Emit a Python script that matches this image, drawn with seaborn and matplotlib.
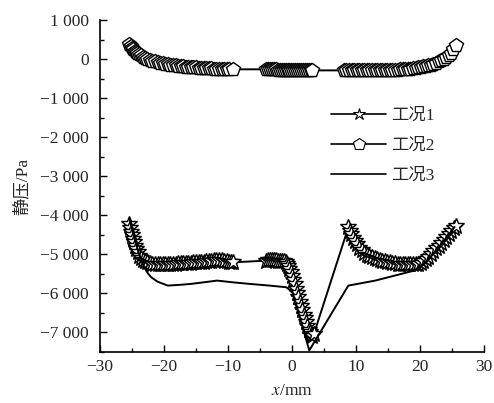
import numpy as np
import pandas as pd
import matplotlib
matplotlib.use('Agg')
import matplotlib.pyplot as plt
import matplotlib.ticker as mticker
import seaborn as sns

# 工况1 (星形标记), three dense segments
x1_left = [-25.4, -25.25, -25.1, -24.95, -24.8, -24.65, -24.5, -24.3, -24.1, -23.85,
           -23.6, -23.3, -23.0, -22.6, -22.2, -21.8, -21.4, -21.0, -20.6, -20.2,
           -19.8, -19.4, -19.0, -18.6, -18.2, -17.8, -17.4, -17.0, -16.6, -16.2,
           -15.8, -15.4, -15.0, -14.6, -14.2, -13.8, -13.4, -13.0, -12.6, -12.2,
           -11.8, -11.4, -11.0, -10.6, -10.2, -9.8, -9.5, -9.2]
y1_left = [-4224, -4320, -4420, -4510, -4600, -4690, -4780, -4870, -4950, -5030,
           -5100, -5145, -5180, -5205, -5225, -5238, -5245, -5250, -5252, -5252,
           -5250, -5248, -5245, -5240, -5236, -5232, -5228, -5224, -5220, -5216,
           -5212, -5208, -5204, -5200, -5195, -5188, -5180, -5170, -5158, -5150,
           -5145, -5145, -5150, -5160, -5172, -5185, -5195, -5205]
x1_mid = [-4.0, -3.7, -3.4, -3.1, -2.8, -2.5, -2.2, -1.9, -1.6, -1.3,
          -1.0, -0.8, -0.6, -0.4, -0.2, 0.0, 0.2, 0.4, 0.6, 0.8,
          1.0, 1.2, 1.4, 1.6, 1.8, 2.0, 2.2, 2.4, 2.6, 2.8,
          3.0, 3.2, 3.4]
y1_mid = [-5160, -5155, -5150, -5150, -5152, -5155, -5160, -5165, -5172, -5180,
          -5205, -5250, -5300, -5380, -5460, -5560, -5660, -5770, -5880, -5990,
          -6100, -6210, -6320, -6430, -6540, -6640, -6740, -6840, -6930, -7000,
          -7060, -7100, -7050]
x1_right = [8.8, 9.0, 9.2, 9.5, 9.8, 10.1, 10.5, 10.9, 11.3, 11.7,
            12.1, 12.5, 12.9, 13.3, 13.7, 14.1, 14.5, 14.9, 15.3, 15.7,
            16.1, 16.5, 16.9, 17.3, 17.7, 18.1, 18.5, 18.9, 19.3, 19.7,
            20.1, 20.5, 20.9, 21.3, 21.7, 22.1, 22.5, 22.9, 23.3, 23.7,
            24.1, 24.5, 24.9, 25.3, 25.6]
y1_right = [-4310, -4390, -4470, -4570, -4660, -4740, -4830, -4900, -4960, -5010,
            -5050, -5080, -5105, -5125, -5145, -5160, -5175, -5190, -5205, -5215,
            -5225, -5235, -5242, -5248, -5252, -5255, -5256, -5255, -5250, -5235,
            -5215, -5180, -5130, -5070, -5000, -4925, -4850, -4775, -4700, -4625,
            -4555, -4485, -4410, -4335, -4267]

# 工况2 (五边形标记)
x2_left = [-25.4, -25.2, -25.0, -24.8, -24.6, -24.4, -24.2, -23.9, -23.6, -23.3,
           -23.0, -22.6, -22.2, -21.8, -21.4, -21.0, -20.6, -20.2, -19.8, -19.4,
           -19.0, -18.6, -18.2, -17.8, -17.4, -17.0, -16.6, -16.2, -15.8, -15.4,
           -15.0, -14.6, -14.2, -13.8, -13.4, -13.0, -12.6, -12.2, -11.8, -11.4,
           -11.0, -10.6, -10.2, -9.8, -9.2]
y2_left = [375, 332, 290, 252, 215, 182, 150, 118, 92, 60,
           30, 5, -20, -42, -62, -80, -95, -108, -122, -133,
           -143, -152, -162, -170, -178, -185, -191, -197, -203, -208,
           -212, -217, -222, -226, -230, -235, -239, -243, -246, -249,
           -252, -255, -258, -260, -263]
x2_mid = [-4.0, -3.7, -3.4, -3.1, -2.8, -2.5, -2.2, -1.9, -1.6, -1.3,
          -1.0, -0.7, -0.4, -0.1, 0.2, 0.5, 0.8, 1.1, 1.4, 1.7,
          2.0, 2.3, 2.6, 2.9, 3.2]
y2_mid = [-262, -263, -264, -265, -266, -267, -268, -269, -270, -271,
          -272, -273, -274, -275, -276, -277, -278, -279, -280, -282,
          -283, -285, -287, -288, -290]
x2_right = [8.1, 8.5, 8.9, 9.3, 9.7, 10.1, 10.5, 10.9, 11.3, 11.7,
            12.1, 12.5, 12.9, 13.3, 13.7, 14.1, 14.5, 14.9, 15.3, 15.7,
            16.1, 16.5, 16.9, 17.3, 17.7, 18.1, 18.5, 18.9, 19.3, 19.7,
            20.1, 20.5, 20.9, 21.3, 21.7, 22.1, 22.5, 22.9, 23.3, 23.7,
            24.1, 24.5, 24.9, 25.2, 25.6]
y2_right = [-290, -290, -290, -290, -290, -289, -289, -289, -288, -288,
            -287, -286, -285, -284, -283, -281, -280, -278, -276, -273,
            -271, -268, -264, -260, -255, -250, -243, -234, -225, -214,
            -203, -190, -176, -160, -140, -118, -92, -62, -30, 10,
            50, 100, 160, 250, 350]

# 工况3 (实线)
x3 = [-25.4, -25.0, -24.6, -24.1, -23.6, -23.1, -22.5, -22.0, -21.0, -19.4, -17.5, -15.8,
      -13.5, -11.7, -9.0, -6.6, -3.5, -0.9, 0.1, 2.7, 8.8, 13.0, 19.1, 21.0, 22.5, 24.0, 25.4]
y3 = [-4100, -4350, -4600, -4880, -5120, -5330, -5490, -5586, -5700, -5800, -5780, -5757,
      -5710, -5672, -5720, -5757, -5800, -5842, -5970, -7460, -5800, -5672, -5416, -5180,
      -4900, -4600, -4300]

x1 = x1_left + x1_mid + x1_right
y1 = y1_left + y1_mid + y1_right
x2 = x2_left + x2_mid + x2_right
y2 = y2_left + y2_mid + y2_right

yticks = [1000, 0, -1000, -2000, -3000, -4000, -5000, -6000, -7000]
ytick_labels = ['1 000', '0', '−1 000', '−2 000', '−3 000', '−4 000', '−5 000', '−6 000', '−7 000']
xticks = [-30, -20, -10, 0, 10, 20, 30]
xtick_labels = ['−30', '−20', '−10', '0', '10', '20', '30']

sns.set_style('ticks')
plt.rcParams['font.family'] = ['Liberation Serif', 'Noto Sans CJK SC']
plt.rcParams['mathtext.fontset'] = 'stix'

fig = plt.figure(figsize=(4.94, 4.03), dpi=100)
ax = fig.add_axes([100 / 494, 51 / 403, 384 / 494, 332 / 403])

mk = dict(markerfacecolor='white', markeredgecolor='black', markeredgewidth=1.0)
sns.lineplot(x=x1, y=y1, ax=ax, color='black', lw=1.4, marker='*', markersize=12,
             sort=False, estimator=None, label='工况1', **mk)
sns.lineplot(x=x2, y=y2, ax=ax, color='black', lw=1.4, marker='p', markersize=10.5,
             sort=False, estimator=None, label='工况2', **mk)
sns.lineplot(x=x3, y=y3, ax=ax, color='black', lw=1.4, sort=False, estimator=None,
             label='工况3')

ax.set_xlim(-30, 30)
ax.set_ylim(-7500, 1000)
ax.set_xticks(xticks)
ax.set_xticklabels(xtick_labels, fontsize=12.5)
ax.set_yticks(yticks)
ax.set_yticklabels(ytick_labels, fontsize=12.5)
ax.xaxis.set_minor_locator(mticker.MultipleLocator(5))
ax.yaxis.set_minor_locator(mticker.MultipleLocator(500))
ax.tick_params(which='major', direction='in', length=5, width=1, color='black')
ax.tick_params(which='minor', direction='in', length=3, width=1, color='black')
ax.tick_params(axis='y', which='major', pad=8)
ax.tick_params(axis='x', which='major', pad=5)
for s in ['top', 'right']:
    ax.spines[s].set_visible(False)
for s in ['left', 'bottom']:
    ax.spines[s].set_color('black')
    ax.spines[s].set_linewidth(1.2)

ax.set_xlabel('$x$/mm', fontsize=12.5, labelpad=6)
ax.set_ylabel('静压/Pa', fontsize=12.5, labelpad=7)

leg = ax.legend(loc='upper left', bbox_to_anchor=(0.601, 0.735), frameon=False, numpoints=1,
                fontsize=12.5, handlelength=3.2, handletextpad=0.3, labelspacing=0.8,
                borderaxespad=0, borderpad=0)
for h in leg.legend_handles:
    h.set_linewidth(1.2)
    h.set_markeredgewidth(0.8)
    h.set_markersize(9)

fig.savefig('out.png', dpi=100)
